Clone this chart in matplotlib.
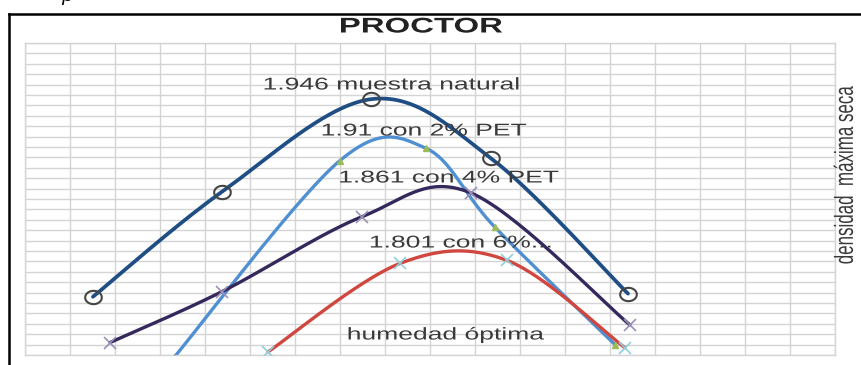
import numpy as np
import matplotlib
matplotlib.use("Agg")
import matplotlib.pyplot as plt
from matplotlib.lines import Line2D
from matplotlib.path import Path
from matplotlib.patheffects import AbstractPathEffect
from matplotlib.transforms import Affine2D

# Proctor compaction data: moisture content (%) and dry density (g/cm3)
hum_natural = [5.51, 8.38, 11.69, 14.36, 17.40]
dens_natural = [1.756, 1.857, 1.946, 1.889, 1.759]

hum_pet2 = [7.30, 11.00, 12.90, 14.44, 17.11]
dens_pet2 = [1.697, 1.887, 1.899, 1.823, 1.710]

hum_pet4 = [5.89, 8.38, 11.49, 13.90, 17.44]
dens_pet4 = [1.712, 1.761, 1.833, 1.856, 1.729]

hum_pet6 = [9.40, 12.33, 14.71, 17.33]
dens_pet6 = [1.703, 1.788, 1.791, 1.707]

labels = ["1.946 muestra natural", "1.91 con 2% PET",
          "1.861 con 4% PET", "1.801 con 6%..."]
title = "PROCTOR"
xlabel = "humedad óptima"
ylabel = "densidad  máxima seca"

X_MIN, X_MAX = 4, 22
Y_MIN, Y_MAX = 1.70, 2.00


class Stretch(AbstractPathEffect):
    """Widen glyphs horizontally about the centre of the text."""

    def __init__(self, sx):
        super().__init__()
        self.sx = sx

    def draw_path(self, renderer, gc, tpath, affine, rgbFace=None):
        ext = tpath.get_extents(affine)
        cx = 0.5 * (ext.x0 + ext.x1)
        aff = affine + Affine2D().translate(-cx, 0).scale(self.sx, 1).translate(cx, 0)
        renderer.draw_path(gc, tpath, aff, rgbFace)


def smooth(xs, ys, n=60):
    """Bezier smoothing through every point (Catmull-Rom style)."""
    p = np.column_stack([xs, ys]).astype(float)
    p = np.vstack([p[0], p, p[-1]])
    out = []
    t = np.linspace(0, 1, n)[:, None]
    for i in range(1, len(p) - 2):
        p0, p1, p2, p3 = p[i - 1], p[i], p[i + 1], p[i + 2]
        c1 = p1 + (p2 - p0) / 6.0
        c2 = p2 - (p3 - p1) / 6.0
        seg = ((1 - t) ** 3) * p1 + 3 * ((1 - t) ** 2) * t * c1 \
            + 3 * (1 - t) * t ** 2 * c2 + t ** 3 * p2
        out.append(seg if i == 1 else seg[1:])
    s = np.vstack(out)
    return s[:, 0], s[:, 1]


W, H = 861, 365
fig = plt.figure(figsize=(W / 100, H / 100), dpi=100)
fig.patch.set_facecolor("white")

ax = fig.add_axes([25 / W, 1 - 355 / H, (835 - 25) / W, (355 - 43) / H])
ax.set_xlim(X_MIN, X_MAX)
ax.set_ylim(Y_MIN, Y_MAX)
ax.set_xticks(np.arange(X_MIN, X_MAX + 1, 1))
ax.set_yticks(np.linspace(Y_MIN, Y_MAX, 31))
ax.tick_params(length=0, labelbottom=False, labelleft=False)
ax.grid(True, color="#d4d4d4", linewidth=1.0)
ax.set_axisbelow(True)
for sp in ax.spines.values():
    sp.set_color("#d4d4d4")
    sp.set_linewidth(1.0)

# ellipse marker (slightly wide)
th = np.linspace(0, 2 * np.pi, 40)
ell = Path(np.column_stack([1.25 * np.cos(th), np.sin(th)]))

series = [
    (hum_natural, dens_natural, "#1f4e85", ell, 12, "none", "#454545", 1.5, 2.7),
    (hum_pet2, dens_pet2, "#4f8fd2", "^", 4, "#9bbb59", "#9bbb59", 1.0, 2.4),
    (hum_pet4, dens_pet4, "#35285c", "x", 8, "none", "#9a90b8", 1.2, 2.4),
    (hum_pet6, dens_pet6, "#d0473f", "x", 8, "none", "#8fd0dc", 1.2, 2.4),
]
for z, (xs, ys, col, mk, ms, mfc, mec, mew, lw) in enumerate(series):
    sx, sy = smooth(xs, ys)
    ax.plot(sx, sy, color=col, lw=lw, solid_capstyle="round", zorder=3 + z)
    ax.plot(xs, ys, linestyle="none", marker=mk, ms=ms, mfc=mfc, mec=mec,
            mew=mew, zorder=7 + z)

txt_color = "#3a3a3a"
st = [Stretch(1.55)]
fam = ["Liberation Sans", "DejaVu Sans"]


def px(x, y):
    return x / W, 1 - y / H


fig.text(*px(421, 27), title, ha="center", va="center", fontsize=15.3,
         fontweight="bold", color="#222222", family=fam, path_effects=st)
label_pos = [(392, 85), (424, 131), (449, 178), (461, 243)]
for (x, y), s in zip(label_pos, labels):
    fig.text(*px(x, y), s, ha="center", va="center", fontsize=12.3,
             color=txt_color, family=fam, path_effects=st, zorder=20)
fig.text(*px(446, 335), xlabel, ha="center", va="center", fontsize=12.3,
         color=txt_color, family=fam, path_effects=st, zorder=20)
fig.text(*px(845, 175), ylabel, ha="center", va="center", fontsize=12.2,
         rotation=90, color=txt_color, family=fam, path_effects=st, zorder=20)

# caption fragment above the frame
fig.text(60 / W, 1 - 1.0 / H, "p", ha="left", va="baseline", fontsize=14,
         style="italic", family="DejaVu Serif", color="black")

# outer frame (top and left edges)
fig.add_artist(Line2D([9 / W, 1.0], [1 - 13.5 / H, 1 - 13.5 / H],
                      transform=fig.transFigure, color="black", lw=1.8))
fig.add_artist(Line2D([9 / W, 9 / W], [1 - 13.5 / H, 0],
                      transform=fig.transFigure, color="black", lw=1.8))

fig.savefig("out.png", dpi=100, facecolor="white")
